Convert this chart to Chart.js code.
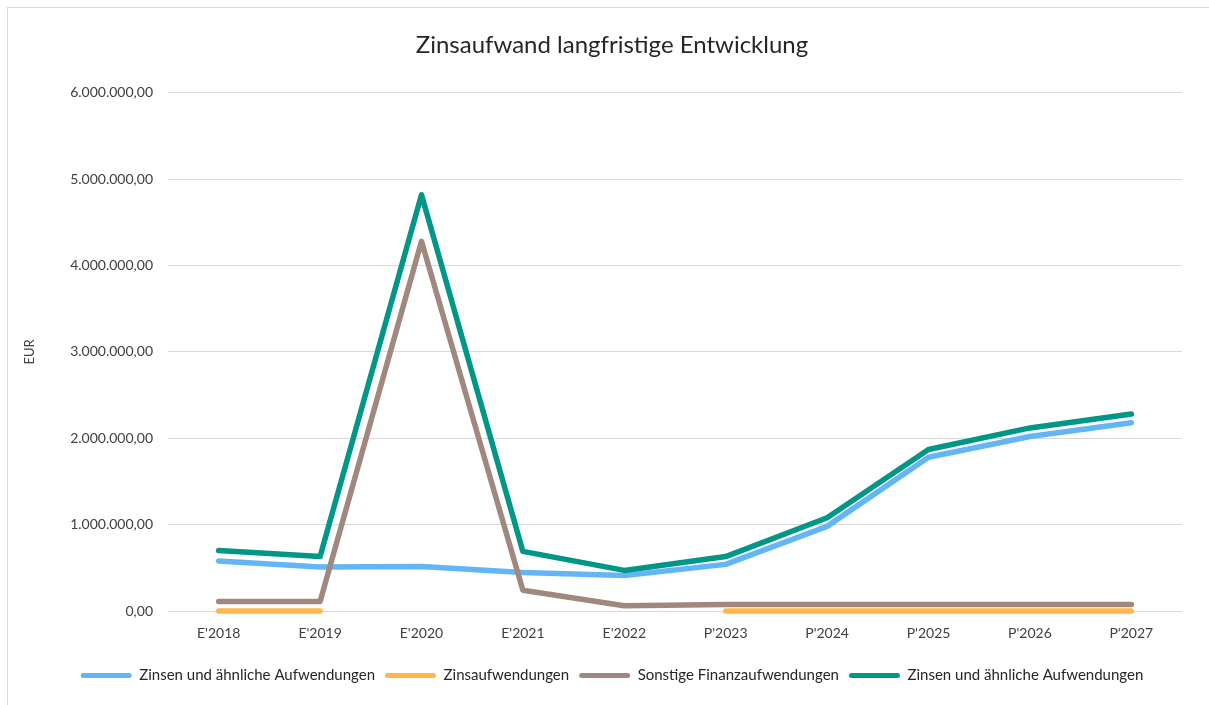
<!DOCTYPE html>
<html>
<head>
<meta charset="utf-8">
<script src="https://cdn.jsdelivr.net/npm/chart.js@4/dist/chart.umd.min.js"></script>
<style>
    html, body { margin: 0; padding: 0; background: #ffffff; overflow: hidden; }
    #frame {
        position: absolute; left: 7px; top: 7px; width: 1210px; height: 710px;
        border: 1px solid #d9d9d9; box-sizing: border-box;
    }
    #wrap { position: absolute; left: 0; top: 0; width: 1209px; height: 705px; }
</style>
</head>
<body>
<div id="frame"></div>
<div id="wrap"><canvas id="zinsChart" width="1209" height="705"></canvas></div>
<script>
// Kategorien und Werte (EUR)
const categories = ["E'2018", "E'2019", "E'2020", "E'2021", "E'2022", "P'2023", "P'2024", "P'2025", "P'2026", "P'2027"];
const zinsenAehnlich = [580000, 510000, 515000, 445000, 410000, 540000, 980000, 1780000, 2020000, 2180000];
const zinsaufwendungen = [0, 0, null, null, null, 0, 0, 0, 0, 0];
const sonstigeFinanz = [110000, 110000, 4280000, 240000, 60000, 75000, 75000, 75000, 75000, 75000];
const zinsenGesamt = [700000, 630000, 4820000, 690000, 470000, 630000, 1080000, 1870000, 2120000, 2280000];
const yTicks = [0, 1000000, 2000000, 3000000, 4000000, 5000000, 6000000];

// deutsches Zahlenformat 6.000.000,00
function formatEUR(v) {
    const parts = Math.round(v).toString().replace(/\B(?=(\d{3})+(?!\d))/g, '.');
    return parts + ',00';
}

function makeSet(label, data, color, order) {
    return {
        label: label,
        data: data,
        borderColor: color,
        backgroundColor: color,
        borderWidth: 5.5,
        borderCapStyle: 'round',
        borderJoinStyle: 'round',
        pointRadius: 0,
        pointHoverRadius: 0,
        tension: 0,
        spanGaps: false,
        fill: false,
        clip: 8,
        order: order
    };
}

function initChart() {
    const ctx = document.getElementById('zinsChart');
    if (!ctx) return;

    Chart.defaults.font.family = 'Lato, "Open Sans", sans-serif';
    Chart.defaults.color = '#404040';
    const defaultLabels = Chart.defaults.plugins.legend.labels.generateLabels;

    new Chart(ctx, {
        type: 'line',
        data: {
            labels: categories,
            datasets: [
                // order: kleinere Zahl liegt oben (grün über blau wie im Original)
                makeSet('Zinsen und ähnliche Aufwendungen', zinsenAehnlich, '#64b5f6', 4),
                makeSet('Zinsaufwendungen', zinsaufwendungen, '#ffb74d', 3),
                makeSet('Sonstige Finanzaufwendungen', sonstigeFinanz, '#a1887f', 2),
                makeSet('Zinsen und ähnliche Aufwendungen', zinsenGesamt, '#009688', 1)
            ]
        },
        options: {
            responsive: false,
            animation: false,
            layout: { padding: { left: 42, right: 27, top: 31, bottom: 12 } },
            plugins: {
                title: {
                    display: true,
                    text: 'Zinsaufwand langfristige Entwicklung',
                    color: '#262626',
                    font: { size: 24, weight: 'normal' },
                    padding: { top: 0, bottom: 33 }
                },
                legend: {
                    position: 'bottom',
                    reverse: true,
                    labels: {
                        boxWidth: 51,
                        boxHeight: 5,
                        useBorderRadius: true,
                        borderRadius: 2.5,
                        padding: 10,
                        color: '#262626',
                        font: { size: 15 },
                        // Legendenbalken ohne Rand, damit sie schmal bleiben
                        generateLabels: (chart) => defaultLabels(chart).map(l => Object.assign(l, { lineWidth: 0 }))
                    }
                },
                tooltip: { enabled: false }
            },
            scales: {
                x: {
                    offset: true,
                    afterFit: (scale) => { scale.height = 47; },
                    grid: { display: false, drawTicks: false },
                    border: { display: false },
                    ticks: { color: '#404040', font: { size: 14 }, padding: 14, maxRotation: 0 }
                },
                y: {
                    min: 0,
                    max: 6000000,
                    afterBuildTicks: (scale) => { scale.ticks = yTicks.map(v => ({ value: v })); },
                    afterFit: (scale) => { scale.width = 126; },
                    grid: { color: '#d9d9d9', lineWidth: 1, drawTicks: false },
                    border: { display: false },
                    title: { display: true, text: 'EUR', color: '#404040', font: { size: 13 }, padding: { top: -20, bottom: 0 } },
                    ticks: {
                        color: '#404040',
                        font: { size: 14 },
                        padding: 15,
                        callback: (v) => formatEUR(v)
                    }
                }
            }
        }
    });
}

document.addEventListener("DOMContentLoaded", () => {
    initChart();
});
</script>
</body>
</html>
